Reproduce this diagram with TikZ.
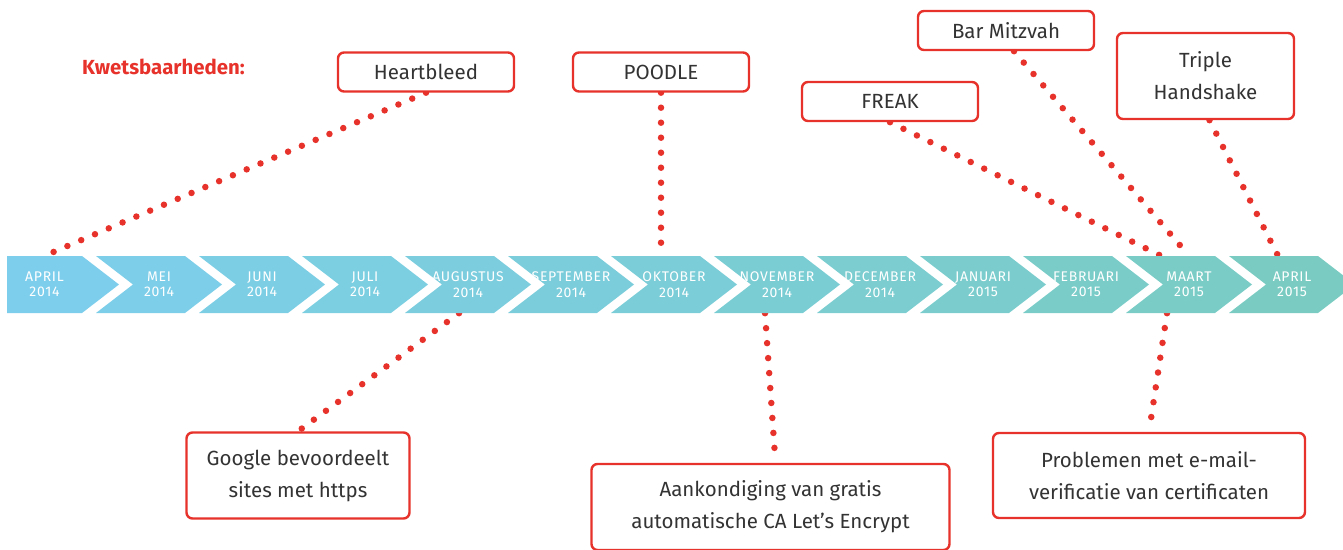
\documentclass[tikz,border=0pt]{standalone}
\usepackage{fontspec}
\setmainfont{Fira Sans}
\newfontfamily\monthfont[LetterSpace=5]{Fira Sans}
\usepackage{xcolor}
\usepackage{tikz}
\usetikzlibrary{
  positioning,
  calc,
  backgrounds
}

\definecolor{kred}{RGB}{230,50,42}
\definecolor{ktext}{RGB}{51,51,51}
\definecolor{mblue}{RGB}{125,206,236}
\definecolor{mteal}{RGB}{122,204,194}

\begin{document}
\begin{tikzpicture}[
    x=1pt, y=-1pt,
    font=\fontsize{20.5}{32}\selectfont,
    event/.style={draw=kred, line width=2.4pt, rounded corners=6pt, fill=white,
                  text=ktext, align=center, inner sep=0pt,
                  minimum width=176, minimum height=39},
    month/.style={text=white, align=center, inner sep=0pt, minimum width=52,
                  minimum height=57, font=\monthfont\fontsize{14}{15.5}\selectfont},
    dots/.style={kred, line width=6.5pt, line cap=round,
                 dash pattern=on 0pt off 15pt},
  ]
  \useasboundingbox (0,0) rectangle (1343,549);

  % Timeline
  \foreach \m/\yr [count=\k from 0] in {APRIL/2014, MEI/2014, JUNI/2014,
      JULI/2014, AUGUSTUS/2014, SEPTEMBER/2014, OKTOBER/2014, NOVEMBER/2014,
      DECEMBER/2014, JANUARI/2015, FEBRUARI/2015, MAART/2015, APRIL/2015} {
    \pgfmathsetmacro\xo{-7+103*\k}
    \pgfmathsetmacro\xc{\k==0 ? 44.5 : 56+103*\k}
    \pgfmathtruncatemacro\p{100*\k/12}
    \colorlet{mc}{mteal!\p!mblue}
    \ifnum\k=0
      \fill[mc] (7,256) -- (82,256) -- (119,284.5) -- (82,313) -- (7,313) -- cycle;
    \else
      \fill[mc] (\xo,256) -- ++(89,0) -- ++(37,28.5) -- ++(-37,28.5)
        -- ++(-89,0) -- ++(37,-28.5) -- cycle;
    \fi
    \node[month] (m\k) at (\xc,284.5) {\m\\\yr};
  }

  % Vulnerabilities
  \node[anchor=west, inner sep=0pt, text=kred,
        font=\fontsize{20.4}{24}\selectfont\bfseries] (kwets) at (82,67)
    {Kwetsbaarheden:};
  \node[event] (heartbleed) at (426,72) {Heartbleed};
  \node[event] (poodle) at (661,72) {POODLE};
  \node[event] (freak) at (890,101.5) {FREAK};
  \node[event] (barmitzvah) at (1006,30.5) {Bar Mitzvah};
  \node[event, minimum width=177, minimum height=86] (triple) at (1205.5,76)
    {Triple\\Handshake};

  % Other events
  \node[event, minimum width=223, minimum height=86] (google) at (298,475.5)
    {Google bevoordeelt\\sites met https};
  \node[event, minimum width=358, minimum height=86] (letsencrypt) at (770.5,507)
    {Aankondiging van gratis\\automatische CA Let’s Encrypt};
  \node[event, minimum width=312, minimum height=85] (email) at (1149,475.5)
    {Problemen met e-mail-\\verificatie van certificaten};

  % Dotted connectors
  \begin{pgfonlayer}{background}
    \draw[dots] (heartbleed.south) -- (m0.north);
    \draw[dots] (poodle.south) -- ([xshift=-13]m6.north);
    \draw[dots] (freak.south) -- ([xshift=-28]m11.north);
    \draw[dots] ([xshift=8]barmitzvah.south) -- (m11.north);
    \draw[dots] ([xshift=4]triple.south) -- ([xshift=-14]m12.north);
    \draw[dots] ([xshift=-9]m4.south) -- (google.north);
    \draw[dots] ([xshift=-12]m7.south) -- ([xshift=5]letsencrypt.north);
    \draw[dots] ([xshift=-22]m11.south) -- (email.north);
  \end{pgfonlayer}

\end{tikzpicture}
\end{document}
